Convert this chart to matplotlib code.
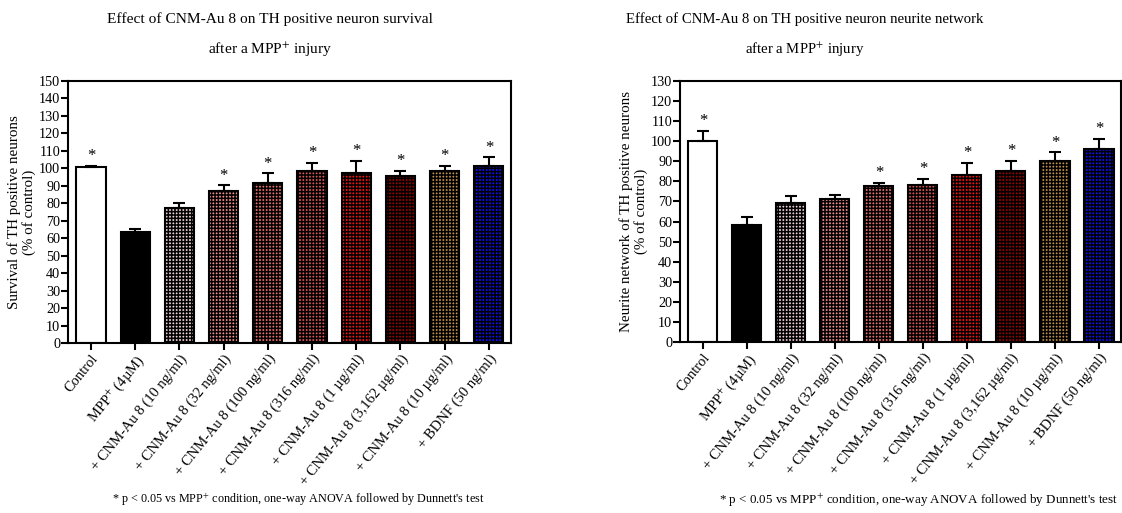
import matplotlib
matplotlib.use("Agg")
import matplotlib.pyplot as plt
import numpy as np

plt.rcParams['font.family'] = ['Liberation Serif', 'DejaVu Serif']
plt.rcParams['mathtext.fontset'] = 'stix'
plt.rcParams['hatch.linewidth'] = 1.1

categories = ["Control", "MPP$^{+}$ (4µM)", "+ CNM-Au 8 (10 ng/ml)", "+ CNM-Au 8 (32 ng/ml)",
              "+ CNM-Au 8 (100 ng/ml)", "+ CNM-Au 8 (316 ng/ml)", "+ CNM-Au 8 (1 µg/ml)",
              "+ CNM-Au 8 (3,162 µg/ml)", "+ CNM-Au 8 (10 µg/ml)", "+ BDNF (50 ng/ml)"]

survival = [100.5, 63.5, 77.3, 87.2, 91.4, 98.3, 97.2, 95.5, 98.3, 101.4]
survival_err = [0.8, 1.8, 3.0, 3.0, 5.8, 5.0, 7.0, 3.0, 3.0, 5.0]
survival_sig = [True, False, False, True, True, True, True, True, True, True]

neurite = [100.2, 58.3, 69.3, 71.4, 77.5, 78.2, 83.2, 85.2, 90.4, 96.3]
neurite_err = [5.0, 4.0, 3.6, 1.8, 1.7, 3.0, 6.0, 5.2, 4.0, 5.0]
neurite_sig = [True, False, False, False, True, True, True, True, True, True]

colors = ["#ffffff", "#000000", "#ecd0d6", "#f49090", "#e87070", "#dc5656",
          "#ff1010", "#a00000", "#c0904a", "#1010ff"]
hatches = ["", "", "+++++", "+++++", "+++++", "+++++", "+++++", "+++++", "+++++", "+++++"]

fig = plt.figure(figsize=(11.22, 5.13), dpi=100)
W, H = 1122, 513

def make_panel(rect, vals, errs, sig, ymax, ylabel, ylab_x, title, title_x, title_fs,
               foot_x, foot_fs):
    ax = fig.add_axes(rect)
    x = np.arange(len(vals))
    bars = ax.bar(x, vals, width=0.66, color=colors, edgecolor="black", linewidth=1.5, zorder=2)
    for b, h in zip(bars, hatches):
        b.set_hatch(h)
    ax.errorbar(x, vals, yerr=[np.zeros(len(vals)), errs], fmt="none", ecolor="black",
                elinewidth=1.5, capsize=4.5, capthick=1.5, zorder=3)
    for xi, v, e, s in zip(x, vals, errs, sig):
        if s:
            ax.text(xi, v + e + 0.8 * ymax / 130, "*", ha="center", va="bottom", fontsize=12)
    ax.set_ylim(0, ymax)
    ax.set_xlim(-0.52, 9.5)
    ax.set_yticks(np.arange(0, ymax + 1, 10))
    ax.set_xticks(x)
    ax.set_xticklabels(categories, rotation=51, ha="right", rotation_mode="anchor", fontsize=10.5)
    ax.tick_params(axis="both", direction="out", length=5, width=1.5, labelsize=10.2, pad=1.5)
    ax.tick_params(axis="x", labelsize=10.5)
    ax.tick_params(axis="y", pad=0.5)
    for sp in ax.spines.values():
        sp.set_linewidth(1.5)
    ax.set_ylabel(ylabel, fontsize=10.8, linespacing=1.15)
    ax.yaxis.set_label_coords(ylab_x, 0.5)
    fig.text(title_x / W, 1 - 12 / H, title + "\nafter a MPP$^{+}$ injury", ha="center", va="top",
             fontsize=title_fs, linespacing=2.1)
    fig.text(foot_x / W, 1 - 500 / H, "* p < 0.05 vs MPP$^{+}$ condition, one-way ANOVA followed by Dunnett's test",
             ha="left", va="center", fontsize=foot_fs)
    return ax

make_panel([68 / W, 170 / H, 443 / W, 262 / H], survival, survival_err, survival_sig, 150,
           "Survival of TH positive neurons\n(% of control)", -0.072,
           "Effect of CNM-Au 8 on TH positive neuron survival", 270, 11.1, 112, 8.7)
make_panel([680 / W, 171 / H, 441 / W, 261 / H], neurite, neurite_err, neurite_sig, 130,
           "Neurite network of TH positive neurons\n(% of control)", -0.072,
           "Effect of CNM-Au 8 on TH positive neuron neurite network", 805, 10.6, 719, 9.4)

fig.savefig("out.png", dpi=100)
